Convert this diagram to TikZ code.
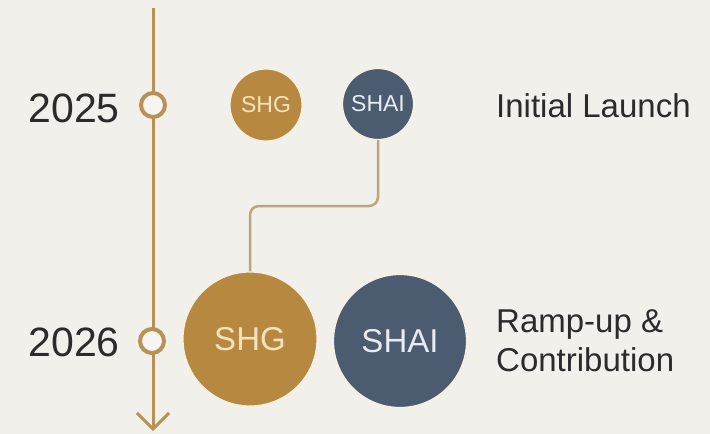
\documentclass[tikz,border=0pt]{standalone}
\usepackage{fontspec}
\setmainfont{Liberation Sans}
\usetikzlibrary{arrows.meta}
\definecolor{bg}{HTML}{F2F0EB}
\definecolor{bgin}{HTML}{F7F5F1}
\definecolor{gold}{HTML}{B78940}
\definecolor{slate}{HTML}{4B5B70}
\definecolor{goldtext}{HTML}{F4E2BE}
\definecolor{slatetext}{HTML}{E8ECF0}
\definecolor{tlcol}{HTML}{B89155}
\definecolor{conncol}{HTML}{BFA57A}
\definecolor{halo}{HTML}{F8F0E0}
\definecolor{ink}{HTML}{2B2B2B}
\begin{document}
\begin{tikzpicture}[x=1pt,y=-1pt,
  bubble/.style={circle, inner sep=0pt, draw=halo, line width=1.2pt},
  goldb/.style={bubble, fill=gold, text=goldtext},
  slateb/.style={bubble, fill=slate, text=slatetext},
  smallfont/.style={font=\fontsize{23}{23}\selectfont},
  bigfont/.style={font=\fontsize{33}{33}\selectfont},
  tl/.style={draw=tlcol, line width=3pt},
  marker/.style={circle, minimum size=24pt, inner sep=0pt, draw=tlcol, line width=4pt, fill=bgin},
  conn/.style={draw=conncol, line width=2.5pt, rounded corners=9pt},
  year/.style={font=\fontsize{41}{41}\selectfont, text=ink, inner sep=0pt},
  lab/.style={font=\fontsize{33}{33}\selectfont, text=ink, inner sep=0pt}
]
\fill[bg] (0,0) rectangle (710,434);
\useasboundingbox (0,0) rectangle (710,434);

% timeline
\coordinate (ttop) at (153,8);
\coordinate (tbot) at (153,431);
\draw[tl, -{Straight Barb[length=16pt,width=32pt]}] (ttop) -- (tbot);
\node[marker] (m25) at (153,105) {};
\node[marker] (m26) at (152,341) {};

% bubbles
\node[goldb, smallfont, minimum size=72pt] (shg1) at (266,105) {SHG};
\node[slateb, smallfont, minimum size=71pt] (shai1) at (378,104) {SHAI};
\node[goldb, bigfont, minimum size=134pt] (shg2) at (250,339) {SHG};
\node[slateb, bigfont, minimum size=133pt] (shai2) at (400,341) {SHAI};

% connector
\coordinate (bend) at (0,206);
\draw[conn] (shai1.south) -- (shai1.south |- bend) -- (shg2.north |- bend) -- (shg2.north);

% labels
\node[year, anchor=base east] (y25) at (120,122) {2025};
\node[year, anchor=base east] (y26) at (120,356) {2026};
\node[lab, anchor=base west] (l1) at (496,117) {Initial Launch};
\node[lab, anchor=base west] (l2a) at (496,332) {Ramp-up \&};
\node[lab, anchor=base west] (l2b) at (496,371) {Contribution};
\end{tikzpicture}
\end{document}
